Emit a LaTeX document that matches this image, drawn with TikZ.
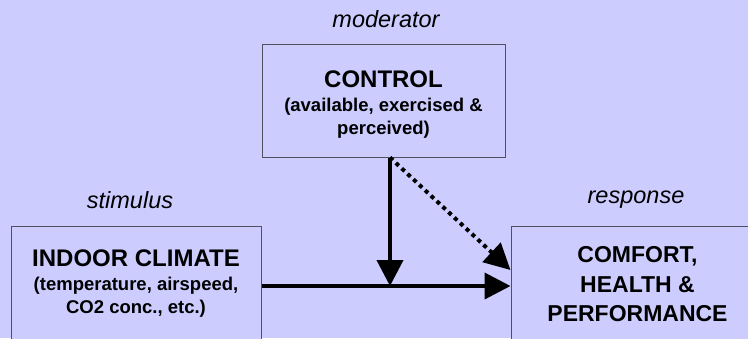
\documentclass[tikz,border=0pt]{standalone}
\usepackage{fontspec}
\setmainfont{Liberation Sans}
\usetikzlibrary{arrows.meta}
\definecolor{lavender}{HTML}{CCCCFF}
\definecolor{rim}{HTML}{505060}
\tikzset{
  box/.style={draw=rim, fill=lavender, line width=1pt, inner sep=0pt},
  boxtext/.style={align=center, font=\fontsize{18.5}{23}\selectfont\bfseries},
  tag/.style={font=\fontsize{23.5}{26}\selectfont\itshape},
  arr/.style={line width=4pt, -{Triangle[length=26pt,width=26pt]}},
  dotarr/.style={arr, dash pattern=on 4pt off 4pt}
}
\newcommand{\ttl}{\fontsize{24}{23}\selectfont}
\begin{document}
\begin{tikzpicture}[x=1pt, y=-1pt]
    \fill[lavender] (0, 0) rectangle (748, 338);
    \useasboundingbox (0, 0) rectangle (748, 338);
    \clip (0, 0) rectangle (748, 338);
    \node[box, minimum width=243pt, minimum height=113pt] (control) at (383.5, 100.5) {};
    \node[box, minimum width=250pt, minimum height=116pt] (indoor) at (136, 284) {};
    \node[box, minimum width=253pt, minimum height=116pt] (comfort) at (637.5, 284) {};
    \node[boxtext] (controltext) at ([yshift=-4pt]control.center)
      {{\ttl CONTROL}\\[1pt](available, exercised \&\\perceived)};
    \node[boxtext] (indoortext) at (indoor.center)
      {{\ttl INDOOR CLIMATE}\\[1pt](temperature, airspeed,\\CO2 conc., etc.)};
    \node[boxtext, font=\fontsize{23}{29.5}\selectfont\bfseries] (comforttext)
      at ([yshift=-0.5pt]comfort.center) {COMFORT,\\HEALTH \&\\PERFORMANCE};
    \node[tag] (modlabel) at (386, 19) {moderator};
    \node[tag] (stimlabel) at (130, 200) {stimulus};
    \node[tag] (resplabel) at (636, 200) {response};
    \coordinate (tap) at ([xshift=6.5pt]control.south);
    \coordinate (meet) at (tap |- 0, 286);
    \coordinate (inlet) at ([yshift=14pt]comfort.west);
    \draw[arr] (indoor.east |- meet) -- (comfort.west |- meet);
    \draw[arr] (tap) -- (meet);
    \draw[dotarr] (tap) -- (inlet);
\end{tikzpicture}
\end{document}
